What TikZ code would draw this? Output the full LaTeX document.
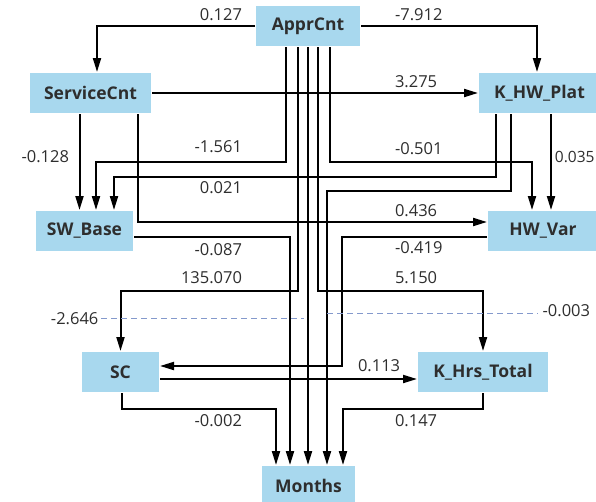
\documentclass[tikz,border=0pt]{standalone}
\usepackage{fontspec}
\setmainfont{Open Sans}
\usepackage{xcolor}
\usetikzlibrary{arrows.meta}
\definecolor{boxfill}{HTML}{A8D8EE}
\definecolor{textgray}{HTML}{2E2E2E}
\definecolor{covblue}{HTML}{8499CC}

\begin{document}
\begin{tikzpicture}[x=1pt, y=-1pt, >={Triangle[length=14pt,width=8pt]}, line width=2pt,
    var/.style={fill=boxfill, text=textgray, font=\fontsize{17.5}{20}\selectfont\bfseries, minimum height=40pt, inner sep=0pt},
    coef/.style={text=textgray, font=\fontsize{16.5}{19}\selectfont, inner sep=0pt},
    cov/.style={color=covblue, line width=1.2pt, dash pattern=on 6pt off 4pt}]
      \clip (0,0) rectangle (596,501);
      \node[var, minimum width=104pt] (ApprCnt) at (308,26) {ApprCnt};
      \node[var, minimum width=121pt] (ServiceCnt) at (90.5,93) {ServiceCnt};
      \node[var, minimum width=121pt] (KHWPlat) at (539.5,93) {K\_HW\_Plat};
      \node[var, minimum width=97pt] (SWBase) at (84.5,231) {SW\_Base};
      \node[var, minimum width=110pt] (HWVar) at (543,231) {HW\_Var};
      \node[var, minimum width=77pt] (SC) at (120.5,372) {SC};
      \node[var, minimum width=130pt] (KHrsTotal) at (483,372) {K\_Hrs\_Total};
      \node[var, minimum width=93pt] (Months) at (308.5,486) {Months};

      \draw[->] (ApprCnt.west) -| ([xshift=6.5pt]ServiceCnt.north) node[coef, anchor=east] (l1) at (243,15) {0.127};
      \draw[->] (ApprCnt.east) -| ([xshift=-2.5pt]KHWPlat.north) node[coef, anchor=west] (l2) at (394,15) {-7.912};
      \draw[->] (ServiceCnt.east) -- (KHWPlat.west) node[coef, anchor=west] (l3) at (394,82) {3.275};
      \draw[->] ([xshift=-11pt]ServiceCnt.south) -- ([xshift=-11pt]ServiceCnt.south |- SWBase.north) node[coef, anchor=east] (l4) at (70,157) {-0.128};
      \draw[->] ([xshift=-22pt]ApprCnt.south) -- ++(0,115) -| ([xshift=11.5pt]SWBase.north) node[coef, anchor=east] (l5) at (243,147) {-1.561};
      \draw[->] ([xshift=22pt]ApprCnt.south) -- ++(0,115) -| ([xshift=-11pt]HWVar.north) node[coef, anchor=west] (l6) at (394,149) {-0.501};
      \draw[->] ([xshift=-43.5pt]KHWPlat.south) -- ++(0,63) -| ([xshift=29.5pt]SWBase.north) node[coef, anchor=east] (l7) at (243,188) {0.021};
      \draw[->] ([xshift=-28.5pt]KHWPlat.south) -- ++(0,77) -| ([xshift=18.5pt]Months.north);
      \draw[->] ([xshift=11.5pt]KHWPlat.south) -- ([xshift=11.5pt]KHWPlat.south |- HWVar.north) node[coef, font=\fontsize{15.5}{18}\selectfont, anchor=east] (l8) at (595.5,157) {0.035};
      \draw[->] ([xshift=47pt]ServiceCnt.south) |- ([yshift=9pt]HWVar.west) node[coef, anchor=west] (l9) at (394,210.5) {0.436};
      \draw[->] ([yshift=-6pt]SWBase.east) -| ([xshift=-18.5pt]Months.north) node[coef, anchor=east] (l10) at (243,250) {-0.087};
      \draw[->] ([yshift=-6pt]HWVar.west) -- ++(-145,0) |- ([yshift=6pt]SC.east) node[coef, anchor=west] (l11) at (394,248) {-0.419};
      \draw[->] ([xshift=-10pt]ApprCnt.south) -- ++(0,244) -| (SC.north) node[coef, anchor=east] (l12) at (243,278) {135.070};
      \draw[->] ([xshift=10pt]ApprCnt.south) -- ++(0,244) -| (KHrsTotal.north) node[coef, anchor=west] (l13) at (394,278) {5.150};
      \draw[->] (ApprCnt.south) -- (ApprCnt.south |- Months.north);
      \draw[->] ([yshift=-7pt]SC.east) -- ([yshift=-7pt]KHrsTotal.west) node[coef, anchor=west] (l14) at (357,366) {0.113};
      \draw[->] ([xshift=1.5pt]SC.south) -- ++(0,16) -| ([xshift=-32.5pt]Months.north) node[coef, anchor=east] (l15) at (243,421) {-0.002};
      \draw[->] (KHrsTotal.south) -- ++(0,16) -| ([xshift=34.5pt]Months.north) node[coef, anchor=west] (l16) at (394,421) {0.147};

      \coordinate (covL) at (101,318.7);
      \coordinate (covLend) at (304,318.7);
      \coordinate (covR) at (327,313.7);
      \coordinate (covRend) at (538,313.7);
      \draw[cov] (covL) -- (covLend) node[coef, anchor=east] (l17) at (99,319) {-2.646};
      \draw[cov] (covR) -- (covRend) node[coef, anchor=west] (l18) at (542,310.5) {-0.003};
    \end{tikzpicture}
\end{document}
